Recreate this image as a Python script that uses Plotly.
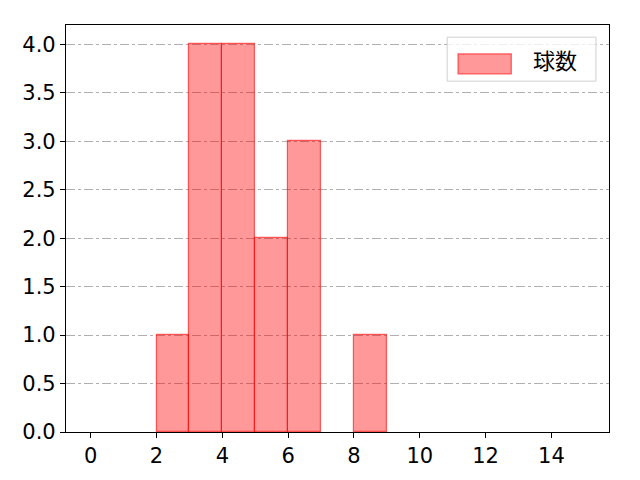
import plotly.graph_objects as go

# pitch-count histogram (bin left edge -> count)
bin_left = [2, 3, 4, 5, 6, 8]
counts = [1, 4, 4, 2, 3, 1]
x_ticks = [0, 2, 4, 6, 8, 10, 12, 14]
y_ticks = [0.0, 0.5, 1.0, 1.5, 2.0, 2.5, 3.0, 3.5, 4.0]
legend_label = "球数"

centers = [b + 0.5 for b in bin_left]
fill = "rgba(255,0,0,0.4)"
edge = "rgba(255,0,0,0.6)"

fig = go.Figure()
fig.add_trace(go.Bar(
    x=centers,
    y=counts,
    width=1,
    name=legend_label,
    marker=dict(color=fill, line=dict(color=edge, width=1.2)),
    showlegend=False,
))

axis_common = dict(
    showline=True, linecolor="black", linewidth=1.2, mirror=True,
    ticks="outside", ticklen=5, tickwidth=1.2, tickcolor="black",
    zeroline=False,
    tickfont=dict(family="DejaVu Sans", size=21, color="black"),
)

fig.update_xaxes(range=[-0.75, 15.75], tickvals=x_ticks,
                 ticktext=[str(v) for v in x_ticks], showgrid=False,
                 **axis_common)
fig.update_yaxes(range=[0, 4.2], tickvals=y_ticks,
                 ticktext=[f"{v:.1f}" for v in y_ticks], showgrid=True,
                 gridcolor="#b0b0b0", griddash="dashdot", gridwidth=1,
                 **axis_common)

# matplotlib-style legend box
fig.add_shape(type="rect", xref="paper", yref="paper",
              x0=0.702, x1=0.976, y0=0.862, y1=0.970,
              line=dict(color="#d0d0d0", width=1), fillcolor="rgba(255,255,255,0.8)")
fig.add_shape(type="rect", xref="paper", yref="paper",
              x0=0.722, x1=0.820, y0=0.880, y1=0.929,
              line=dict(color=edge, width=1.2), fillcolor=fill)
fig.add_annotation(xref="paper", yref="paper", x=0.901, y=0.916,
                   xanchor="center", yanchor="middle",
                   text=legend_label, showarrow=False,
                   font=dict(family="Noto Sans CJK JP", size=22, color="black"))

fig.update_layout(
    width=640, height=480,
    margin=dict(l=58, r=39, t=17, b=56),
    plot_bgcolor="white", paper_bgcolor="white",
    font=dict(family="DejaVu Sans", size=21, color="black"),
    bargap=0,
)

fig.write_html("out.html")
